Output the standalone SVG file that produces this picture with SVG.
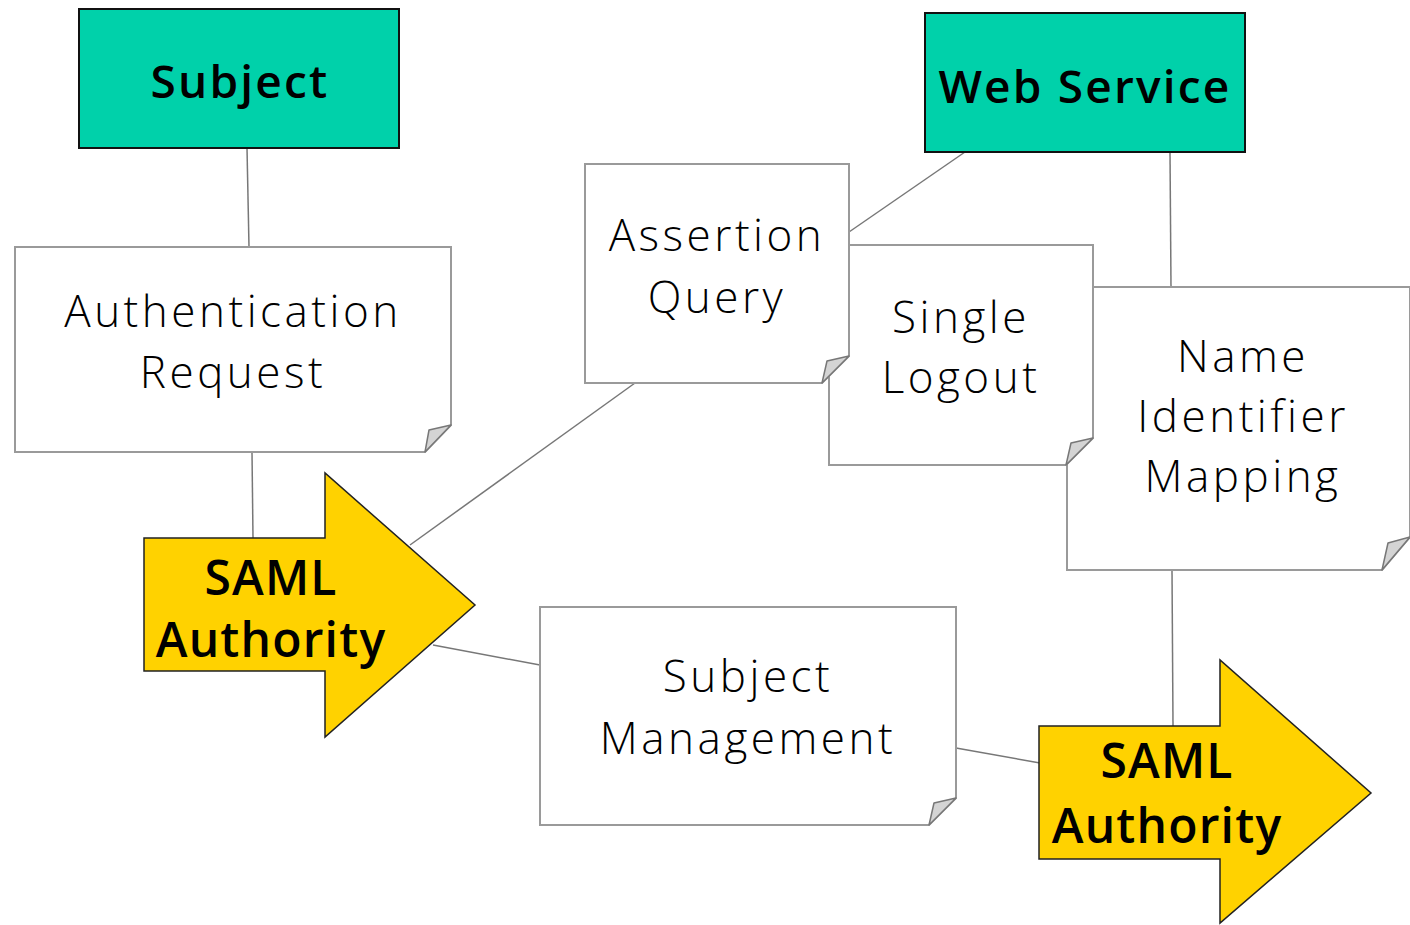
<svg xmlns="http://www.w3.org/2000/svg" width="1410" height="925" viewBox="0 0 1410 925">
  <style>
    .actor rect { fill: #00D1AA; stroke: #111; stroke-width: 2; }
    .actor text { font-family: "Open Sans", "Liberation Sans", sans-serif; font-weight: 600; font-size: 46px; letter-spacing: 2.2px; fill: #000; text-anchor: middle; }
    .note path.page { fill: #fff; stroke: #9a9a9a; stroke-width: 2; }
    .note path.fold { fill: #d4d4d4; stroke: #777; stroke-width: 1.5; stroke-linejoin: round; }
    .note text { font-family: "Open Sans", "Liberation Sans", sans-serif; font-weight: 300; font-size: 44px; letter-spacing: 3.5px; fill: #000; text-anchor: middle; }
    .authority path { fill: #FFD200; stroke: #222; stroke-width: 1.5; }
    .authority text { font-family: "Open Sans", "Liberation Sans", sans-serif; font-weight: 600; font-size: 48px; letter-spacing: 1.2px; fill: #000; text-anchor: middle; }
    #connectors line { stroke: #777; stroke-width: 1.5; }
  </style>
  <rect width="1410" height="925" fill="#fff"/>

  <g id="connectors">
    <line x1="247" y1="148" x2="249" y2="247"/>
    <line x1="252" y1="452" x2="253" y2="538"/>
    <line x1="410" y1="545" x2="635" y2="383"/>
    <line x1="433" y1="645" x2="540" y2="665"/>
    <line x1="965" y1="152" x2="849" y2="232"/>
    <line x1="1170" y1="152" x2="1171" y2="287"/>
    <line x1="1172" y1="570" x2="1173" y2="726"/>
    <line x1="956" y1="748" x2="1040" y2="763"/>
  </g>

  <g id="subject" class="actor">
    <rect x="79" y="9" width="320" height="139"/>
    <text x="240" y="98">Subject</text>
  </g>

  <g id="web-service" class="actor">
    <rect x="925" y="13" width="320" height="139"/>
    <text x="1085" y="103">Web Service</text>
  </g>

  <g id="name-identifier-mapping" class="note">
    <path class="page" d="M1067 287 H1410 V537 L1382 570 H1067 Z"/>
    <path class="fold" d="M1410 537 L1388 543 L1382 570 Z"/>
    <text x="1243" y="372">Name</text>
    <text x="1243" y="432">Identifier</text>
    <text x="1243" y="492">Mapping</text>
  </g>

  <g id="single-logout" class="note">
    <path class="page" d="M829 245 H1093 V438 L1066 465 H829 Z"/>
    <path class="fold" d="M1093 438 L1071 443 L1066 465 Z"/>
    <text x="961" y="333">Single</text>
    <text x="961" y="393">Logout</text>
  </g>

  <g id="assertion-query" class="note">
    <path class="page" d="M585 164 H849 V356 L822 383 H585 Z"/>
    <path class="fold" d="M849 356 L827 361 L822 383 Z"/>
    <text x="717" y="251">Assertion</text>
    <text x="717" y="313">Query</text>
  </g>

  <g id="authentication-request" class="note">
    <path class="page" d="M15 247 H451 V425 L425 452 H15 Z"/>
    <path class="fold" d="M451 425 L429 430 L425 452 Z"/>
    <text x="233" y="327">Authentication</text>
    <text x="233" y="388">Request</text>
  </g>

  <g id="subject-management" class="note">
    <path class="page" d="M540 607 H956 V798 L929 825 H540 Z"/>
    <path class="fold" d="M956 798 L934 803 L929 825 Z"/>
    <text x="748" y="692">Subject</text>
    <text x="748" y="754">Management</text>
  </g>

  <g id="saml-authority-1" class="authority">
    <path d="M144 538 H325 V473 L475 605 L325 737 V671 H144 Z"/>
    <text x="271" y="595">SAML</text>
    <text x="271" y="657">Authority</text>
  </g>

  <g id="saml-authority-2" class="authority">
    <path d="M1039 726 H1220 V660 L1371 793 L1220 923 V859 H1039 Z"/>
    <text x="1167" y="778">SAML</text>
    <text x="1167" y="843">Authority</text>
  </g>
</svg>
